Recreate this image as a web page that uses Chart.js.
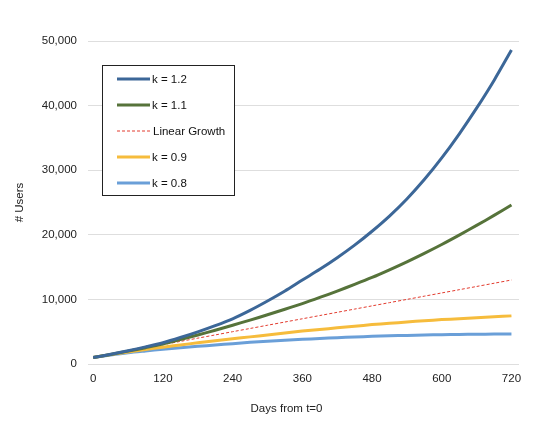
<!DOCTYPE html>
<html>
<head>
<meta charset="utf-8">
<script src="https://cdn.jsdelivr.net/npm/chart.js@4.4.0/dist/chart.umd.min.js"></script>
<style>
  html, body { margin: 0; padding: 0; background: #fff; }
  #wrap { width: 544px; height: 422px; }
</style>
</head>
<body>
<div id="wrap"><canvas id="chart" width="544" height="422"></canvas></div>
<script>
// days from t=0, one sample every 30 days
const days = [0, 30, 60, 90, 120, 150, 180, 210, 240, 270, 300, 330, 360,
  390, 420, 450, 480, 510, 540, 570, 600, 630, 660, 690, 720];

const k12 = [1000, 1500, 2050, 2650, 3300, 4100, 4980, 5940, 7000, 8300, 9750, 11300, 13000,
  14650, 16450, 18400, 20550, 22900, 25550, 28550, 31900, 35600, 39600, 43900, 48600];
const k11 = [1000, 1480, 1990, 2530, 3100, 3780, 4490, 5230, 6000, 6800, 7620, 8470, 9350,
  10300, 11290, 12320, 13400, 14580, 15820, 17130, 18500, 19950, 21450, 23000, 24600];
const linear = [1000, 1500, 2000, 2500, 3000, 3500, 4000, 4500, 5000, 5500, 6000, 6500, 7000,
  7500, 8000, 8500, 9000, 9500, 10000, 10500, 11000, 11500, 12000, 12500, 13000];
const k09 = [1000, 1450, 1850, 2250, 2600, 2950, 3280, 3600, 3900, 4200, 4500, 4800, 5100,
  5350, 5600, 5850, 6100, 6300, 6500, 6700, 6870, 7020, 7170, 7310, 7450];
const k08 = [1000, 1400, 1750, 2020, 2270, 2500, 2730, 2950, 3150, 3350, 3520, 3680, 3820,
  3950, 4070, 4180, 4280, 4360, 4430, 4490, 4540, 4580, 4610, 4630, 4650];

const seriesNames = ['k = 1.2', 'k = 1.1', 'Linear Growth', 'k = 0.9', 'k = 0.8'];
const xTicks = [0, 120, 240, 360, 480, 600, 720];
const yTicks = [0, 10000, 20000, 30000, 40000, 50000];
const xTitle = 'Days from t=0';
const yTitle = '# Users';

const FONT = "'Liberation Sans', Arial, Helvetica, sans-serif";
const colors = ['#3c6798', '#56733a', '#e23b2e', '#f6bc3c', '#6a9fd8'];
const values = [k12, k11, linear, k09, k08];

function pts(vals) {
  return vals.map((v, i) => ({ x: days[i], y: v }));
}

// legend with a black box inside the plot, plus the x axis title
const boxLegend = {
  id: 'boxLegend',
  afterDraw(chart) {
    const ctx = chart.ctx;
    const x0 = 102.5, y0 = 65.5, w = 132, h = 130;
    ctx.save();
    ctx.fillStyle = '#fff';
    ctx.fillRect(x0, y0, w, h);
    ctx.strokeStyle = '#222';
    ctx.lineWidth = 1;
    ctx.strokeRect(x0, y0, w, h);
    ctx.font = '11.5px ' + FONT;
    ctx.textBaseline = 'middle';
    ctx.fillStyle = '#111';
    chart.data.datasets.forEach((ds, i) => {
      const y = 79 + i * 26;
      ctx.beginPath();
      ctx.strokeStyle = ds.borderColor;
      ctx.lineWidth = ds.borderWidth;
      ctx.setLineDash(ds.borderDash || []);
      ctx.moveTo(117, y);
      ctx.lineTo(150, y);
      ctx.stroke();
      ctx.setLineDash([]);
      ctx.fillText(ds.label, ds.borderDash ? 153 : 152, y + 0.5);
    });
    ctx.textAlign = 'center';
    ctx.fillStyle = '#222';
    ctx.fillText(xTitle, 286.5, 409);
    ctx.restore();
  }
};

new Chart(document.getElementById('chart'), {
  type: 'line',
  data: {
    datasets: values.map((v, i) => ({
      label: seriesNames[i],
      data: pts(v),
      borderColor: colors[i],
      borderWidth: i === 2 ? 1 : 3,
      borderDash: i === 2 ? [3, 2] : undefined,
      pointRadius: 0,
      tension: 0.3,
      fill: false
    }))
  },
  options: {
    responsive: false,
    animation: false,
    layout: { padding: { left: 0, right: 25, top: 41, bottom: 0 } },
    plugins: { legend: { display: false }, tooltip: { enabled: false } },
    scales: {
      x: {
        type: 'linear',
        min: -9,
        max: 733,
        afterBuildTicks: s => { s.ticks = xTicks.map(v => ({ value: v })); },
        afterFit: s => { s.height = 58; },
        grid: { display: false, drawTicks: false },
        border: { display: false },
        ticks: { padding: 8, color: '#222', font: { family: FONT, size: 11.5 } }
      },
      y: {
        min: 0,
        max: 50000,
        afterBuildTicks: s => { s.ticks = yTicks.map(v => ({ value: v })); },
        afterFit: s => { s.width = 88; },
        grid: { color: '#dedede', lineWidth: 1, drawTicks: false },
        border: { display: false },
        ticks: {
          padding: 11, color: '#222', font: { family: FONT, size: 11.5 },
          callback: v => v.toLocaleString('en-US')
        },
        title: {
          display: true, text: yTitle, color: '#222',
          font: { family: FONT, size: 11.5 }, padding: { top: 13, bottom: 4 }
        }
      }
    }
  },
  plugins: [boxLegend]
});
</script>
</body>
</html>
